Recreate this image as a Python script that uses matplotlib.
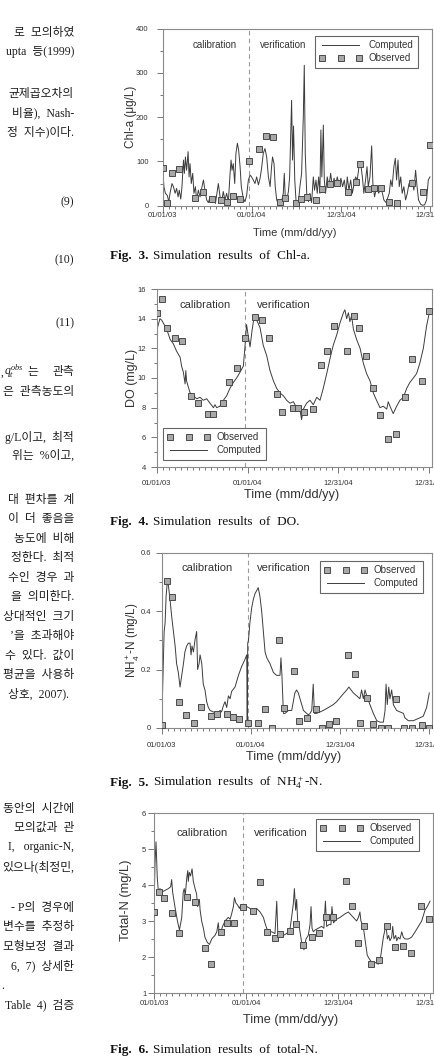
import matplotlib
matplotlib.use("Agg")
import matplotlib.pyplot as plt
from matplotlib.ticker import FixedLocator, MultipleLocator, FuncFormatter

plt.rcParams['mathtext.fontset'] = 'custom'
plt.rcParams['mathtext.rm'] = 'Liberation Serif'
plt.rcParams['mathtext.it'] = 'Liberation Serif:italic'

# ---------------- data (x = days since 01/01/03) ----------------
tick_days = [0, 365, 730, 1095]
tick_labels = ['01/01/03', '01/01/04', '12/31/04', '12/31/05']
split_day = 353

chl_comp_day = [0,5,11,19,25,30,38,44,51,57,
                63,68,74,79,85,89,93,98,104,108,
                112,117,123,128,134,139,146,153,161,167,
                173,180,187,194,202,207,216,221,228,235,
                242,248,255,262,269,276,280,284,289,295,
                300,306,311,317,322,330,337,344,351,358,
                364,371,378,385,392,399,405,412,419,426,
                433,440,446,450,456,461,467,474,480,487,
                494,498,502,508,515,520,524,528,532,536,
                541,546,551,557,562,569,576,580,584,590,
                597,603,610,617,622,628,633,639,644,648,
                652,658,662,667,674,681,688,695,702,708,
                715,723,730,737,744,751,756,763,770,777,
                784,790,797,804,811,818,824,831,837,842,
                849,856,861,868,876,885,893,900,906,915,
                921,928,934,940,947,953,958,964,969,975,
                981,988,995,1002,1009,1016,1022,1029,1036,1042,
                1048,1057,1065,1073,1081,1088,1095]
chl_comp_val = [84,43,28,23,9,28,50,43,28,39,
                20,35,15,43,103,73,110,80,122,65,
                95,50,73,28,43,13,35,20,43,58,
                35,13,7,20,8,17,5,24,50,20,
                9,32,13,28,9,73,103,80,95,50,
                118,141,126,88,43,17,9,24,58,69,
                65,58,50,65,47,62,84,118,129,110,
                65,43,88,110,95,43,13,4,2,9,
                28,73,20,13,32,65,148,238,103,180,
                58,13,5,13,43,73,200,317,118,28,
                9,28,7,65,35,58,28,65,28,171,
                65,182,58,28,65,43,73,43,62,43,
                65,47,62,43,58,28,65,35,58,28,
                50,65,58,88,95,65,28,58,88,43,
                65,135,50,20,43,28,43,28,13,7,
                17,28,58,43,88,107,58,103,43,65,
                28,43,13,28,50,43,58,35,80,43,
                13,3,1,2,13,58,65]
chl_obs_day = [0,19,40,68,132,164,201,239,265,290,317,354,395,422,450,480,501,546,
               567,590,627,654,685,713,760,790,808,840,866,894,927,958,1022,1065,1095]
chl_obs_val = [84,7,73,83,17,30,15,13,9,23,15,101,129,157,154,9,17,7,
               15,20,13,37,49,52,30,54,94,37,39,41,9,7,52,30,137]

do_comp_day = [0,13,20,40,54,67,80,94,100,107,114,117,120,127,134,147,161,174,187,201,
               214,228,234,241,254,268,281,294,308,321,335,348,355,361,368,375,383,392,399,415,
               428,442,455,469,482,495,509,522,535,549,562,576,582,589,602,616,629,643,656,669,
               683,696,709,723,736,750,756,763,770,776,783,790,803,817,830,843,857,870,883,897,
               910,924,930,937,950,964,977,991,1004,1017,1031,1044,1057,1071,1084,1095]
do_comp_val = [13.2,14.0,13.9,13.3,12.6,12.3,11.8,11.4,10.8,10.4,9.6,10.5,9.8,9.4,9.0,8.8,8.6,8.7,8.5,8.6,
               8.3,8.0,8.2,8.0,8.1,8.5,8.8,9.3,9.7,10.0,10.4,10.8,12.2,13.6,12.8,12.1,13.2,14.2,14.0,13.4,
               12.2,11.5,10.5,9.8,9.3,9.0,8.8,8.5,8.3,8.4,8.0,7.8,7.2,7.9,8.3,8.5,8.2,8.7,8.5,9.3,
               10.3,11.3,12.2,12.9,13.7,14.4,14.6,14.0,14.4,13.8,14.2,13.3,12.6,12.0,11.0,10.3,9.8,9.0,8.5,8.0,
               8.1,7.9,8.4,8.1,7.6,8.1,8.5,8.7,9.3,9.7,10.0,10.3,11.0,12.0,13.5,14.4]
do_obs_day = [3,23,43,74,100,137,167,205,228,268,292,321,353,396,424,452,482,502,549,566,
              593,629,659,685,712,764,792,814,839,870,897,929,961,997,1024,1066,1092]
do_obs_val = [14.4,15.3,13.4,12.7,12.5,8.8,8.3,7.6,7.6,8.3,9.7,10.7,12.7,14.1,13.9,12.7,8.9,7.7,8.0,8.0,
              7.7,7.9,10.9,11.8,13.5,11.8,14.2,13.4,11.5,9.3,7.5,5.9,6.2,8.7,11.3,9.8,14.5]

nh4_comp_day = [0,10,14,18,23,27,34,41,48,55,61,68,75,82,89,95,102,109,116,120,
                124,130,136,143,147,153,157,164,170,177,184,191,198,211,225,239,245,252,259,266,
                273,280,286,300,314,327,341,348,350,352,355,361,368,375,382,389,395,402,409,416,
                423,430,443,457,470,484,488,492,498,505,518,532,545,552,559,566,573,580,593,600,
                607,614,620,625,634,648,661,682,702,716,736,757,766,784,798,811,818,825,832,839,
                852,866,880,893,907,914,918,923,929,934,941,948,961,975,989,995,1009,1030,1043,1057,
                1070,1084,1095]
nh4_comp_val = [0.01,0.33,0.36,0.45,0.50,0.49,0.44,0.38,0.33,0.28,0.22,0.19,0.14,0.18,0.22,0.26,0.28,0.29,0.29,0.25,
                0.28,0.26,0.30,0.33,0.20,0.22,0.25,0.22,0.15,0.13,0.09,0.07,0.06,0.055,0.05,0.06,0.055,0.075,0.09,0.07,
                0.11,0.10,0.125,0.14,0.18,0.21,0.235,0.25,0.01,0.29,0.30,0.36,0.41,0.44,0.46,0.47,0.48,0.45,0.40,0.33,
                0.26,0.24,0.22,0.19,0.18,0.18,0.24,0.18,0.05,0.05,0.06,0.06,0.12,0.13,0.12,0.10,0.08,0.06,0.05,0.045,
                0.05,0.06,0.15,0.05,0.05,0.055,0.06,0.07,0.08,0.09,0.11,0.13,0.14,0.12,0.11,0.10,0.13,0.10,0.13,0.11,
                0.08,0.05,0.025,0.02,0.02,0.06,0.15,0.08,0.14,0.10,0.13,0.08,0.06,0.055,0.05,0.035,0.025,0.025,0.03,0.035,
                0.04,0.07,0.12]
nh4_obs_day = [0,20,41,71,98,134,161,202,226,266,290,316,352,395,423,451,479,500,543,563,
               593,630,657,685,712,761,789,811,839,866,896,927,959,993,1023,1064,1092]
nh4_obs_val = [0.010,0.502,0.448,0.089,0.045,0.016,0.073,0.041,0.047,0.047,0.039,0.031,0.016,0.016,0.065,0.001,0.302,0.067,0.195,0.024,
               0.033,0.064,0.001,0.012,0.024,0.249,0.184,0.016,0.101,0.014,0.001,0.001,0.099,0.001,0.001,0.010,0.001]

tn_comp_day = [0,4,8,13,17,24,30,44,57,66,70,74,83,93,101,110,116,120,124,130,
               134,136,140,145,151,156,163,169,173,180,183,189,196,202,212,220,229,235,242,249,
               255,259,265,272,282,288,295,302,308,315,319,325,331,339,344,352,361,368,381,394,
               407,421,434,440,447,454,467,480,487,491,500,513,526,533,540,546,553,557,562,566,
               570,577,586,595,603,612,619,623,627,632,639,652,665,674,680,685,694,702,706,712,
               725,738,758,771,784,797,804,811,817,821,830,837,846,854,864,877,890,897,903,910,
               916,920,926,931,936,943,947,952,959,963,969,976,983,989,996,1009,1022,1036,1049,1062,
               1075,1084,1095]
tn_comp_val = [3.3,4.6,5.2,4.2,3.85,3.9,3.8,3.85,3.9,3.95,4.15,3.8,3.4,3.0,2.75,3.1,3.8,3.9,3.7,4.2,
               4.4,4.1,4.35,4.25,4.45,4.1,3.9,3.75,3.4,3.6,3.3,3.0,2.8,2.55,2.4,2.35,2.5,2.55,2.6,2.7,
               2.95,2.65,2.7,2.85,3.0,3.05,3.1,3.05,3.2,3.4,3.65,3.5,3.45,3.35,3.45,3.4,3.35,3.4,3.35,3.3,
               3.35,3.25,3.1,2.95,2.8,2.7,2.7,2.65,3.55,2.7,2.65,2.6,2.65,2.7,2.8,3.1,3.5,3.9,3.3,3.6,
               3.0,2.8,2.4,2.2,2.5,2.6,2.9,3.4,2.8,2.7,2.75,2.8,2.85,2.8,3.55,2.85,2.9,2.9,3.4,2.95,
               3.05,3.1,3.2,3.25,3.15,3.05,3.0,3.1,3.25,3.0,2.85,2.5,2.05,1.95,1.85,1.85,1.8,1.9,2.2,2.55,
               2.75,2.9,2.5,2.6,2.45,2.55,2.85,2.5,2.6,2.45,2.55,2.5,2.7,2.55,2.5,2.5,2.55,2.7,2.85,3.0,
               3.3,3.4,3.55]
tn_obs_day = [0,21,40,70,100,132,163,202,226,264,291,317,352,394,421,450,479,500,540,563,
              590,626,655,682,709,760,787,809,835,862,891,923,955,989,1018,1058,1090]
tn_obs_val = [3.26,3.81,3.63,3.21,2.66,3.68,3.54,2.26,1.80,2.69,2.95,2.95,3.38,3.28,4.07,2.70,2.52,2.64,2.72,2.92,
              2.33,2.56,2.67,3.10,3.10,4.12,3.43,2.40,2.86,1.81,1.93,2.86,2.29,2.31,2.12,3.42,3.06]

# ---------------- figure ----------------
W, H = 434, 1063
fig = plt.figure(figsize=(W / 100, H / 100), dpi=100)
fig.patch.set_facecolor('white')

SANS = 'Liberation Sans'
SERIF = 'Liberation Serif'
KFONT = [SERIF, 'Noto Sans CJK KR']
LINE_C = '#3c3c3c'
SPINE_C = '#8a8a8a'
TXT_C = '#333333'
XMAX = 1105


def fx(x):
    return x / W


def fy(y):
    return 1 - y / H


def make_axes(x0, xend, top, bottom):
    ppd = (xend - x0) / 1095.0
    width = XMAX * ppd
    ax = fig.add_axes([fx(x0), fy(bottom), width / W, (bottom - top) / H])
    return ax, width


def style(ax, ylim, ymaj, ymin, xpad, ypad, fmt=None):
    ax.set_xlim(0, XMAX)
    ax.set_ylim(*ylim)
    for s in ax.spines.values():
        s.set_color(SPINE_C)
        s.set_linewidth(0.8)
    ax.xaxis.set_major_locator(FixedLocator(tick_days))
    ax.set_xticklabels(tick_labels)
    ax.xaxis.set_minor_locator(MultipleLocator(365 / 15.0))
    ax.yaxis.set_major_locator(MultipleLocator(ymaj))
    ax.yaxis.set_minor_locator(MultipleLocator(ymin))
    if fmt is not None:
        ax.yaxis.set_major_formatter(FuncFormatter(fmt))
    ax.tick_params(which='both', direction='out', top=False, right=False,
                   color='#777777', width=0.7, labelcolor=TXT_C, labelsize=5.5)
    ax.tick_params(which='major', length=4)
    ax.tick_params(which='minor', length=2.5)
    ax.tick_params(axis='x', which='major', pad=xpad)
    ax.tick_params(axis='y', which='major', pad=ypad)
    for lab in ax.get_xticklabels() + ax.get_yticklabels():
        lab.set_fontfamily(SANS)
    ax.axvline(split_day, color='#9a9a9a', lw=0.8, ls=(0, (4, 3)), zorder=1)


def series(ax, cd, cv, od, ov):
    assert len(cd) == len(cv) and len(od) == len(ov)
    ln, = ax.plot(cd, cv, color=LINE_C, lw=0.7, label='Computed', zorder=2)
    mk, = ax.plot(od, ov, ls='none', marker='s', ms=3.7, mfc='#a8a8a8',
                  mec='#4a4a4a', mew=0.7, label='Observed', zorder=3)
    return ln, mk


def legend(ax, handles, x, y):
    lg = ax.legend(handles=handles, loc='upper left', bbox_to_anchor=(fx(x), fy(y)),
                   bbox_transform=fig.transFigure, borderaxespad=0, numpoints=3,
                   fontsize=7, handlelength=4.4, handletextpad=0.7, borderpad=0.45,
                   labelspacing=0.3, fancybox=False, framealpha=1, edgecolor='#666666',
                   prop={'family': SANS, 'size': 7})
    lg.get_frame().set_linewidth(0.8)
    for t in lg.get_texts():
        t.set_color(TXT_C)


def labels(ax, x0, width, top, bottom, ylab, ylx, yly, ysize, tly, tsize):
    ax.set_ylabel(ylab, fontsize=ysize, family=SANS, color=TXT_C, va='center')
    ax.yaxis.set_label_coords(-(x0 - ylx) / width, (bottom - yly) / (bottom - top))
    ax.set_xlabel('Time (mm/dd/yy)', fontsize=tsize, family=SANS, color=TXT_C, va='center')
    ax.xaxis.set_label_coords(0.49, -(tly - bottom) / (bottom - top))


def period_text(cx, vx, y, size):
    fig.text(fx(cx), fy(y), 'calibration', ha='center', va='center', fontsize=size,
             family=SANS, color=TXT_C)
    fig.text(fx(vx), fy(y), 'verification', ha='center', va='center', fontsize=size,
             family=SANS, color=TXT_C)


def caption(y, num, rest):
    fig.text(fx(110), fy(y), 'Fig.  %s.' % num, ha='left', va='center', fontsize=9.5,
             family=SERIF, weight='bold', color='#111111')
    fig.text(fx(153), fy(y), rest, ha='left', va='center', fontsize=9.5,
             family=SERIF, color='#111111')


# ---- Fig. 3 Chl-a ----
x0, top, bot = 162.7, 28.5, 205.7
ax1, w1 = make_axes(x0, 430.0, top, bot)
style(ax1, (0, 400), 100, 50, 0.6, 6.2)
l1, m1 = series(ax1, chl_comp_day, chl_comp_val, chl_obs_day, chl_obs_val)
legend(ax1, [l1, m1], 315, 36)
labels(ax1, x0, w1, top, bot, 'Chl-a (\u03bcg/L)', 131, 117, 8.5, 233, 8)
period_text(215, 283, 45.5, 7)
caption(256, '3', 'Simulation  results  of  Chl-a.')

# ---- Fig. 4 DO ----
x0, top, bot = 156.7, 289, 467
ax2, w2 = make_axes(x0, 429.3, top, bot)
style(ax2, (4, 16), 2, 1, 5.2, 3.6)
l2, m2 = series(ax2, do_comp_day, do_comp_val, do_obs_day, do_obs_val)
legend(ax2, [m2, l2], 163, 428)
labels(ax2, x0, w2, top, bot, 'DO (mg/L)', 132, 378, 9, 495, 9.2)
period_text(205, 284, 305.5, 8)
caption(522, '4', 'Simulation  results  of  DO.')

# ---- Fig. 5 NH4+-N ----
x0, top, bot = 161.7, 552.5, 728
ax3, w3 = make_axes(x0, 429.3, top, bot)
style(ax3, (0, 0.6), 0.2, 0.1, 5.9, 3.6,
      fmt=lambda v, p: '0' if abs(v) < 1e-9 else '%.1f' % v)
l3, m3 = series(ax3, nh4_comp_day, nh4_comp_val, nh4_obs_day, nh4_obs_val)
legend(ax3, [m3, l3], 320, 561)
labels(ax3, x0, w3, top, bot, r'NH$\mathregular{_4^+}$-N (mg/L)', 133, 640, 8.5, 757, 9.2)
period_text(207, 284, 568, 8)
caption(783, '5', r'Simulation  results  of  NH$\mathregular{_4^+}$-N.')

# ---- Fig. 6 Total-N ----
x0, top, bot = 154, 813, 993
ax4, w4 = make_axes(x0, 430.0, top, bot)
style(ax4, (1, 6), 1, 0.5, 0.8, 1.6)
l4, m4 = series(ax4, tn_comp_day, tn_comp_val, tn_obs_day, tn_obs_val)
legend(ax4, [m4, l4], 316, 819)
labels(ax4, x0, w4, top, bot, 'Total-N (mg/L)', 126, 900, 9.3, 1020, 9.2)
period_text(202, 281, 833, 8)
caption(1050, '6', 'Simulation  results  of  total-N.')

# ---------------- left column (page text) ----------------
left_lines = [
    (33, '로  모의하였'), (52, 'upta  등(1999)'), (94, '균제곱오차의'),
    (113, '비율),  Nash-'), (132, '정  지수)이다.'), (202, '(9)'), (260, '(10)'),
    (323, '(11)'), (392, '은  관측농도의'), (437, 'g/L이고,  최적'),
    (456, '위는  %이고,'), (500, '대  편차를  계'), (519, '이  더  좋음을'),
    (539, '농도에  비해'), (558, '정한다.  최적'), (578, '수인  경우  과'),
    (597, '을  의미한다.'), (617, '상대적인  크기'), (636, '\u2019을  초과해야'),
    (656, '수  있다.  값이'), (675, '평균을  사용하'), (809, '동안의  시간에'),
    (828, '모의값과  관'), (847, 'I,   organic-N,'), (867, '있으나(최정민,'),
    (908, '- P의  경우에'), (927, '변수를  추정하'), (947, '모형보정  결과'),
    (966, '6,  7)  상세한'), (1005, 'Table  4)  검증'),
]
for yy, s in left_lines:
    fig.text(fx(74), fy(yy), s, ha='right', va='center', fontsize=8.5,
             family=KFONT, color='#1e1e1e')
fig.text(fx(69), fy(694), '상호,  2007).', ha='right', va='center', fontsize=8.5,
         family=KFONT, color='#1e1e1e')
fig.text(fx(1), fy(986), '.', ha='left', va='center', fontsize=8.5,
         family=KFONT, color='#1e1e1e')
# line with q_t^obs
fig.text(fx(74), fy(372), '관측', ha='right', va='center', fontsize=8.5,
         family=KFONT, color='#1e1e1e')
fig.text(fx(38), fy(372), '는', ha='right', va='center', fontsize=8.5,
         family=KFONT, color='#1e1e1e')
fig.text(fx(24), fy(371), r'$q_t^{obs}$', ha='right', va='center', fontsize=8.5,
         color='#1e1e1e')
fig.text(fx(1), fy(373), ',', ha='left', va='center', fontsize=8.5,
         family=KFONT, color='#1e1e1e')

fig.savefig('out.png', dpi=100, facecolor='white')
